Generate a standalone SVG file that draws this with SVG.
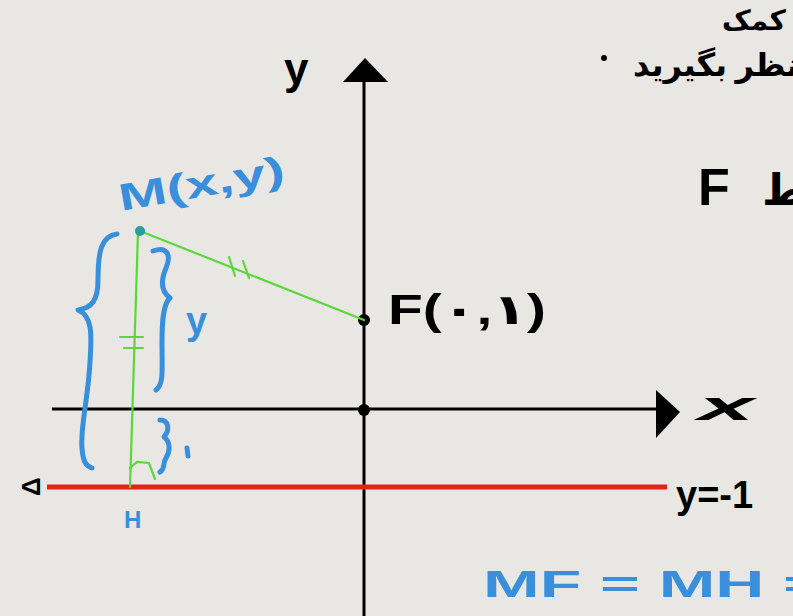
<svg xmlns="http://www.w3.org/2000/svg" width="793" height="616" viewBox="0 0 793 616">
<defs>
<style>
.ax{stroke:#000;stroke-width:3;fill:none}
.red{stroke:#e8201c;stroke-width:5;fill:none}
.grn{stroke:#5ad83a;stroke-width:2.2;fill:none;stroke-linecap:round}
.blu{stroke:#3a8fdc;stroke-width:5;fill:none;stroke-linecap:round;stroke-linejoin:round}
.tb{font-family:"Liberation Sans","DejaVu Sans",sans-serif;fill:#000;font-weight:bold}
.tl{font-family:"Liberation Sans","DejaVu Sans",sans-serif;fill:#3a8fdc;font-weight:bold}
.fa{font-family:"Noto Sans","DejaVu Sans",sans-serif;fill:#000;font-weight:bold}
</style>
</defs>
<rect width="793" height="616" fill="#e9e7e3"/>
<g id="axes">
<line class="ax" x1="364" y1="78" x2="364" y2="616"/>
<polygon points="365,58 343,82 388,82" fill="#000"/>
<line class="ax" x1="52" y1="409" x2="660" y2="409"/>
<polygon points="680,412 656,390 656,438" fill="#000"/>
<circle cx="364" cy="410" r="6" fill="#000"/>
<text class="tb" x="284" y="84" font-size="44">y</text>
<text class="tb" x="698" y="420" font-size="40" font-style="italic" textLength="56" lengthAdjust="spacingAndGlyphs">x</text>
</g>
<g id="directrix">
<line class="red" x1="47" y1="487" x2="667" y2="487"/>
<text class="tb" x="0" y="0" font-size="26" transform="translate(40,496) rotate(-90)">Δ</text>
<text class="tb" x="676" y="508" font-size="38">y=-1</text>
</g>
<g id="focus">
<circle cx="364" cy="320" r="6" fill="#000"/>
<text class="tb" x="388" y="324" font-size="42" textLength="158" lengthAdjust="spacingAndGlyphs">F(٠,١)</text>
</g>
<g id="connectors">
<line class="grn" x1="140" y1="231" x2="364" y2="320"/>
<line class="grn" x1="138" y1="232" x2="130" y2="487"/>
<line class="grn" x1="229" y1="257" x2="235" y2="276"/>
<line class="grn" x1="243" y1="261" x2="249" y2="278"/>
<line class="grn" x1="120" y1="337" x2="143" y2="337"/>
<line class="grn" x1="124" y1="348" x2="143" y2="348"/>
<polyline class="grn" points="130,468 137,462 149,463 155,479"/>
</g>
<g id="pointM">
<circle cx="140" cy="231" r="5" fill="#2a9d9d"/>
<text class="tl" x="0" y="0" font-size="38" transform="translate(121,211) rotate(-10)" textLength="168" lengthAdjust="spacingAndGlyphs">M(x,y)</text>
</g>
<g id="braces">
<path class="blu" d="M117,234 C101,236 98,252 98,280 C98,300 92,308 78,310 C92,316 92,332 90,362 C88,400 80,428 82,448 C83,462 86,466 92,468"/>
<path class="blu" d="M153,251 C166,246 172,254 166,268 C160,282 162,292 170,298 C163,304 162,322 162,342 C162,370 164,384 156,390"/>
<text class="tl" x="186" y="334" font-size="38">y</text>
<path class="blu" d="M160,420 C169,420 170,430 164,437 C171,442 170,452 166,458 C162,464 166,468 160,472"/>
<line class="blu" x1="187" y1="448" x2="188" y2="456"/>
<text class="tl" x="124" y="528" font-size="24">H</text>
</g>
<g id="notes">
<text class="fa" x="722" y="30" font-size="28">کمک</text>
<circle cx="604" cy="58" r="3" fill="#000"/>
<text class="fa" x="633" y="76" font-size="32">در نظر بگیرید</text>
<text class="tb" x="698" y="205" font-size="52">F</text>
<text class="fa" x="762" y="205" font-size="44">ط</text>
<text class="tl" x="483" y="597" font-size="36" textLength="340" lengthAdjust="spacingAndGlyphs">MF = MH =</text>
</g>
</svg>
